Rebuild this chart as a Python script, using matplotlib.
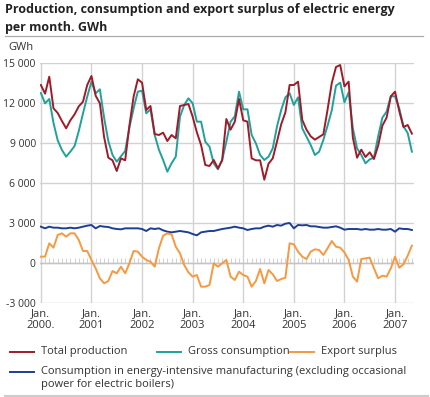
"""Production, consumption and export surplus of electric energy, monthly, GWh."""

import matplotlib
matplotlib.use("Agg")
import matplotlib.pyplot as plt
from matplotlib.lines import Line2D
from matplotlib.ticker import FuncFormatter
import numpy as np

plt.rcParams["font.family"] = ["Open Sans", "DejaVu Sans"]

# Jan 2000 .. May 2007, one value per month (GWh)
YEAR_LABELS = ["Jan.\n2000.", "Jan.\n2001", "Jan.\n2002", "Jan.\n2003",
               "Jan.\n2004", "Jan.\n2005", "Jan.\n2006", "Jan.\n2007"]

TOTAL_PRODUCTION = [
    13350, 12700, 13975, 11600, 11250, 10650, 10100, 10700, 11150, 11750, 12100, 13350,
    14025, 12550, 11975, 9450, 7900, 7700, 6900, 7850, 7700, 10300, 12475, 13775,
    13525, 11475, 11775, 9675, 9600, 9775, 9150, 9600, 9350, 11775, 11850, 11925,
    10975, 9800, 8850, 7350, 7275, 7725, 7100, 7700, 10800, 10000, 10600, 12300,
    10700, 10600, 7850, 7700, 7700, 6250, 7450, 7850, 9100, 10400, 11300, 13350,
    13350, 13600, 10725, 10000, 9500, 9250, 9450, 9650, 11500, 13500, 14700, 14850,
    13250, 13600, 9400, 7900, 8500, 7950, 8300, 7800, 8800, 10300, 10900, 12500,
    12850, 11400, 10200, 10350, 9700,
]

GROSS_CONSUMPTION = [
    12750, 11975, 12300, 10500, 9200, 8475, 7975, 8350, 8775, 9900, 11225, 12475,
    13600, 12725, 13025, 10900, 9150, 8100, 7600, 8000, 8400, 10150, 11600, 12850,
    12925, 11225, 11525, 9600, 8500, 7725, 6850, 7475, 7975, 10975, 11850, 12350,
    11975, 10600, 10600, 9100, 8725, 7475, 7025, 7725, 9100, 10600, 11000, 12850,
    11525, 11525, 9600, 8975, 8100, 7725, 7975, 8600, 10225, 11475, 12425, 12725,
    11850, 12425, 10100, 9475, 8850, 8100, 8350, 9225, 10300, 11450, 13300, 13525,
    12050, 12800, 10100, 8600, 8100, 7475, 7775, 7900, 9500, 10900, 11350, 12500,
    12500, 11600, 10250, 9750, 8350,
]

EXPORT_SURPLUS = [
    475, 475, 1475, 1150, 2100, 2225, 1975, 2225, 2225, 1725, 900, 900,
    225, -400, -1150, -1525, -1350, -600, -775, -275, -775, -25, 900, 850,
    475, 225, 100, -275, 1100, 2050, 2225, 2150, 1225, 725, -150, -700,
    -1025, -900, -1775, -1775, -1650, -25, -275, -25, 225, -1025, -1275, -650,
    -900, -1025, -1775, -1350, -450, -1525, -525, -850, -1350, -1200, -1100, 1475,
    1400, 850, 475, 300, 850, 1025, 975, 600, 1100, 1650, 1225, 1150,
    800, 225, -1025, -1400, 300, 350, 400, -400, -1150, -950, -1025, -400,
    475, -350, -100, 550, 1300,
]

ENERGY_INTENSIVE = [
    2725, 2600, 2725, 2650, 2650, 2600, 2600, 2650, 2600, 2650, 2725, 2800,
    2850, 2600, 2775, 2725, 2700, 2600, 2550, 2525, 2600, 2600, 2600, 2600,
    2550, 2400, 2600, 2550, 2600, 2450, 2350, 2300, 2350, 2400, 2350, 2300,
    2175, 2075, 2300, 2350, 2400, 2400, 2475, 2550, 2600, 2650, 2725, 2650,
    2600, 2475, 2550, 2600, 2600, 2725, 2800, 2725, 2850, 2800, 2950, 3000,
    2600, 2850, 2825, 2850, 2750, 2750, 2700, 2650, 2650, 2700, 2750, 2650,
    2500, 2550, 2550, 2550, 2500, 2550, 2500, 2500, 2550, 2500, 2500, 2550,
    2350, 2600, 2550, 2550, 2475,
]

RED = "#a01b28"
TEAL = "#1fa19c"
ORANGE = "#f6993f"
BLUE = "#1c3f95"
GRID = "#d2d2d2"
TEXT = "#333333"

W, H = 430, 397


def fx(px):
    return px / W


def fy(py):
    return 1 - py / H


def thousands(v, _pos):
    s = f"{abs(int(v)):,}".replace(",", " ")
    return ("-" if v < 0 else "") + s


months = np.arange(len(TOTAL_PRODUCTION))

fig = plt.figure(figsize=(W / 100, H / 100), dpi=100)
ax = fig.add_axes([fx(40), fy(303), fx(414) - fx(40), fy(63) - fy(303)])

ax.set_xlim(-0.2, 88.5)
ax.set_ylim(-3000, 15000)
ax.set_yticks(np.arange(-3000, 15001, 3000))
ax.yaxis.set_major_formatter(FuncFormatter(thousands))
ax.set_xticks(np.arange(0, len(YEAR_LABELS) * 12, 12))
ax.set_xticklabels(YEAR_LABELS, linespacing=1.0)
ax.tick_params(length=0, labelsize=8, colors=TEXT, pad=4)
ax.tick_params(axis="y", labelsize=7.5, pad=3)
for spine in ax.spines.values():
    spine.set_visible(False)
ax.grid(True, color=GRID, lw=1)
ax.set_axisbelow(True)

# small month ticks along the zero line
ax.vlines(months, 0, 380, color=GRID, lw=0.8, zorder=1)
ax.axhline(0, color="#c4c4c4", lw=1, zorder=1)

ax.plot(months, ENERGY_INTENSIVE, color=BLUE, lw=1.4, zorder=3)
ax.plot(months, EXPORT_SURPLUS, color=ORANGE, lw=1.4, zorder=3)
ax.plot(months, GROSS_CONSUMPTION, color=TEAL, lw=1.4, zorder=3)
ax.plot(months, TOTAL_PRODUCTION, color=RED, lw=1.4, zorder=4)

fig.text(fx(5), fy(3), "Production, consumption and export surplus of electric energy\nper month. GWh",
         ha="left", va="top", fontsize=9, fontweight="bold", color="#222222", linespacing=1.45)
fig.add_artist(Line2D([fx(5), fx(423)], [fy(36), fy(36)], color="#aaaaaa", lw=0.9))
fig.add_artist(Line2D([fx(5), fx(428)], [fy(395.5), fy(395.5)], color="#cccccc", lw=1.5))
fig.text(fx(8), fy(47), "GWh", ha="left", va="center", fontsize=8, color=TEXT)

legend_rows = [
    (10, 352, RED, "Total production"),
    (157, 352, TEAL, "Gross consumption"),
    (290, 352, ORANGE, "Export surplus"),
    (10, 372, BLUE, "Consumption in energy-intensive manufacturing (excluding occasional\npower for electric boilers)"),
]
for x0, y0, color, label in legend_rows:
    fig.add_artist(Line2D([fx(x0), fx(x0 + 24)], [fy(y0), fy(y0)], color=color, lw=1.4))
    fig.text(fx(x0 + 31), fy(y0 - 6), label, ha="left", va="top", fontsize=8,
             color=TEXT, linespacing=1.25)

fig.savefig("out.png", dpi=100)
